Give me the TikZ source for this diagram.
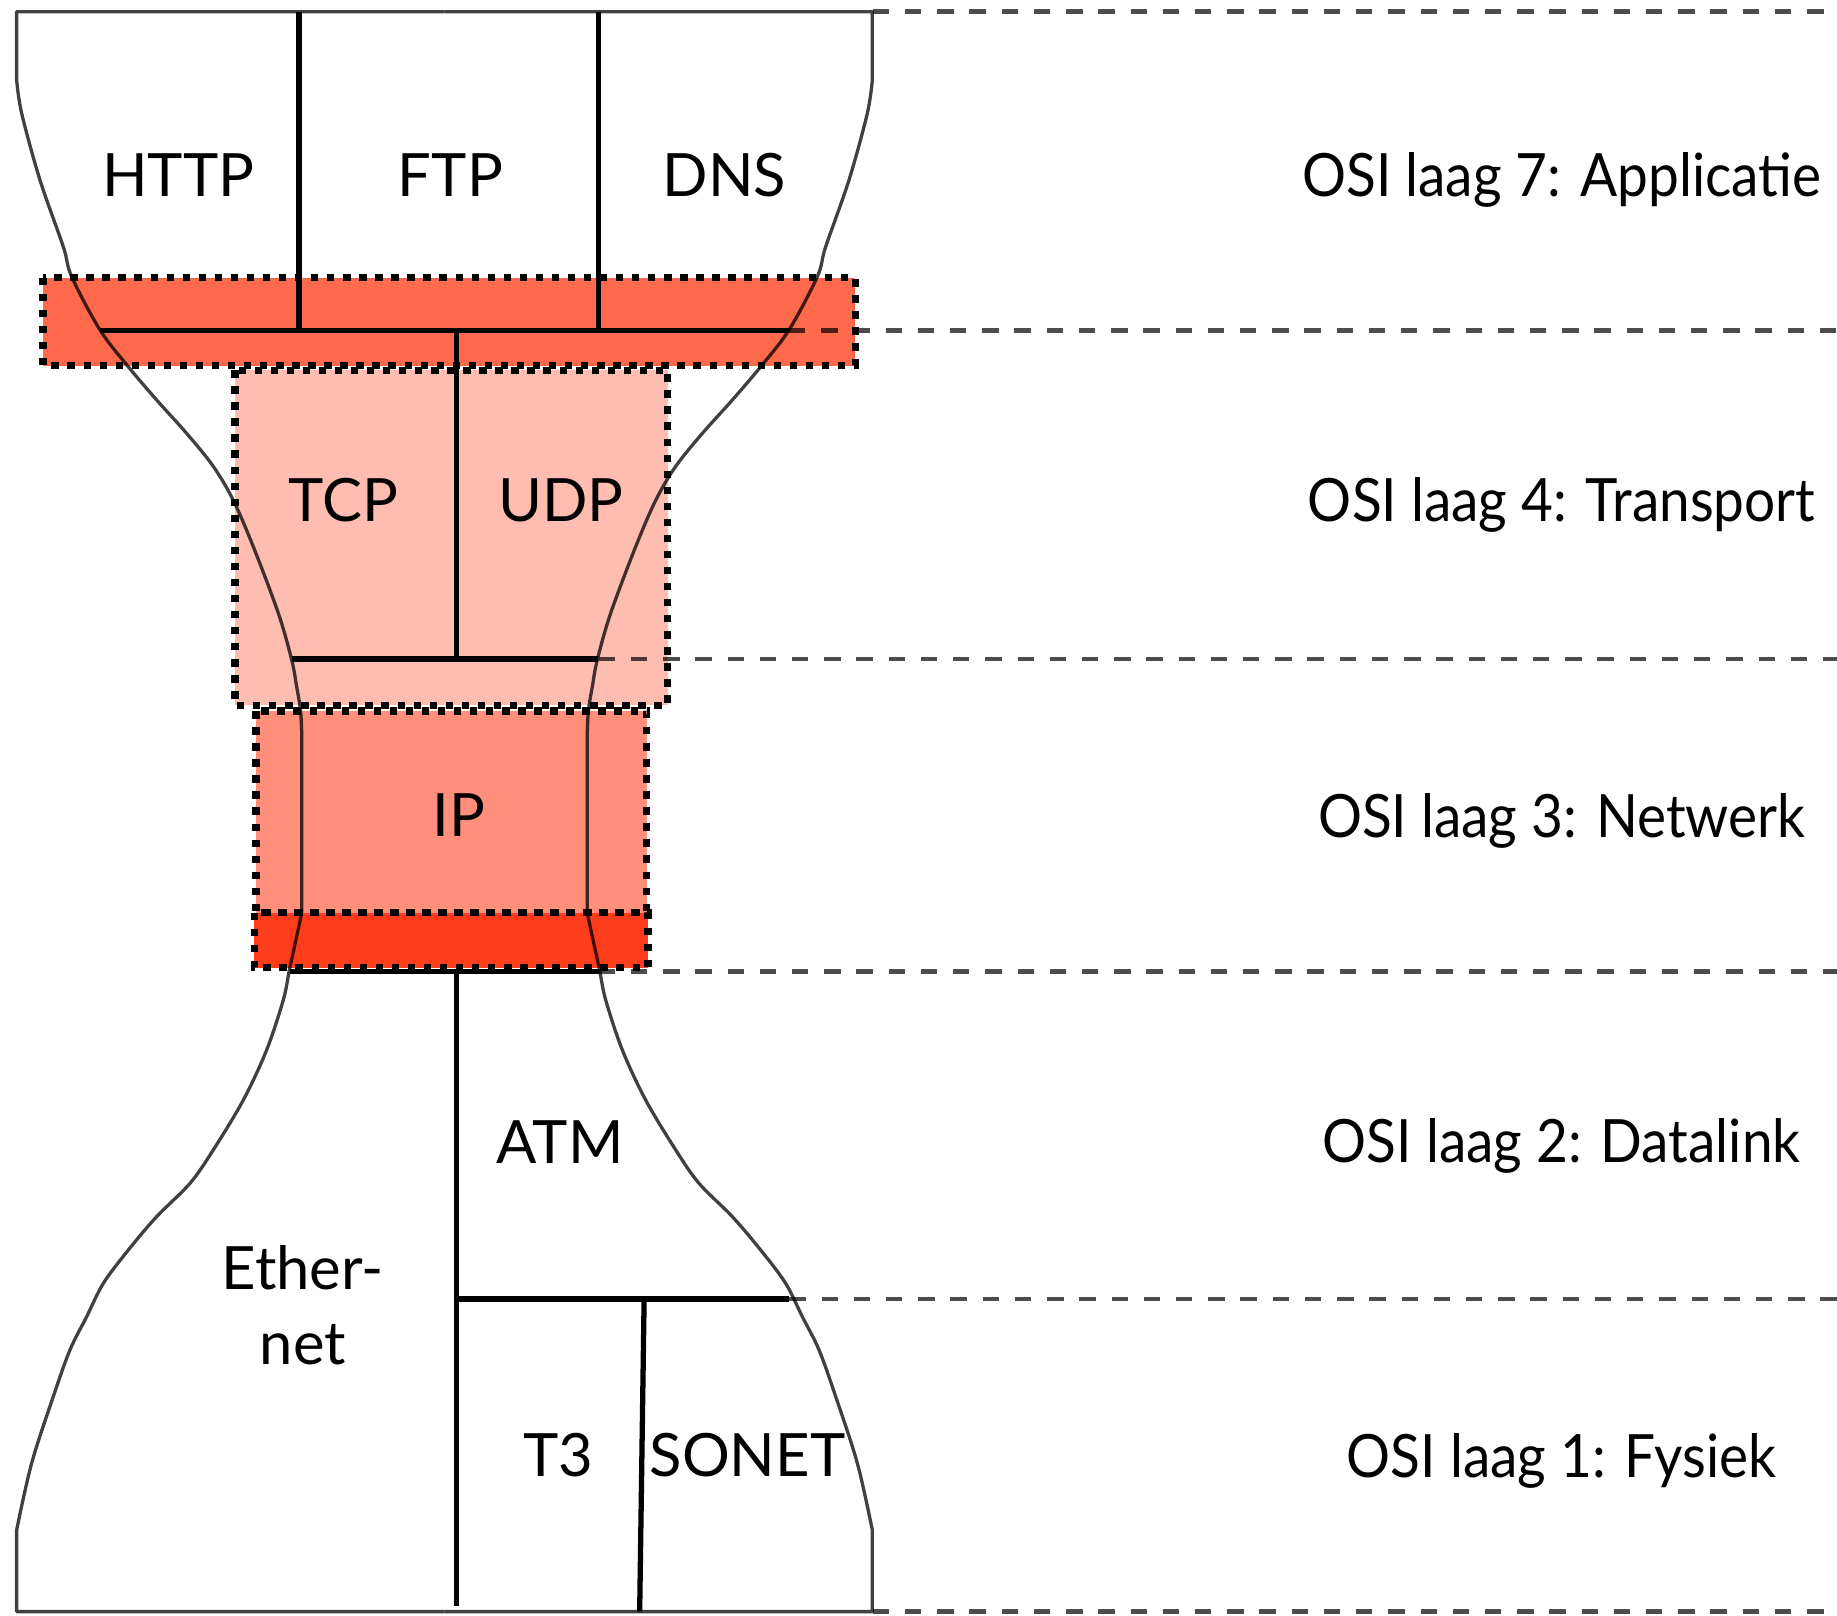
\documentclass[tikz,border=0pt]{standalone}
\usepackage{graphicx}
\usepackage{fontspec}
\setmainfont{Lato}

\definecolor{appband}{RGB}{255,106,77}
\definecolor{transbox}{RGB}{255,189,177}
\definecolor{netbox}{RGB}{255,143,122}
\definecolor{linkband}{RGB}{255,60,28}

% left half of the hourglass outline; the right half is its mirror image
\newcommand\hourglasshalf{%
  \draw[outline] (379.4,10) -- (14.2,10) -- (14.2,68)
    -- plot[smooth, tension=0.55] coordinates {(14.2,68) (18.5,96.7) (34.1,153.6)
       (54,210.5) (61.2,236.2) (85.4,281.7) (109.5,313) (133.7,341.4) (159.3,369.9)
       (182,398) (199,426.8) (216.2,466.6) (237.6,523.5) (249,563.3) (253.2,586)
       (256.5,606) (257.5,625)}
    -- (257.5,779.5)
    -- plot[smooth, tension=0.55] coordinates {(257.5,779.5) (252,805) (247,828)
       (241.8,853.5) (227.6,896.2) (207.7,938.9) (182,981.6) (162.2,1010)
       (133.7,1038.5) (109.5,1067) (88.2,1095.4) (74,1123.8) (59.7,1152.3)
       (45.5,1192) (27,1249) (14.2,1306)}
    -- (14.2,1375.6) -- (379.4,1375.6);}

% OSI layer caption, set slightly condensed
\newcommand\ositext[1]{\scalebox{0.92}[1]{#1}}

\begin{document}
\begin{tikzpicture}[x=1pt,y=-1pt,
  outline/.style={draw=black, draw opacity=0.75, line width=2.8pt, line join=round},
  divider/.style={draw=black, line width=4.5pt},
  layerline/.style={draw=black, draw opacity=0.7, line width=4pt,
    dash pattern=on 14pt off 13.5pt},
  dotbox/.style={draw=black, line width=6.3pt, dash pattern=on 6.3pt off 7.4pt},
  proto/.style={anchor=base, inner sep=0pt, font=\fontsize{51}{60}\selectfont},
  osi/.style={proto}]

\useasboundingbox (0,0) rectangle (1568,1379);

% coloured protocol layers
\fill[appband] (36.7,237) rectangle (730,312);
\fill[transbox] (200.6,316) rectangle (570,602);
\fill[netbox] (218.5,607) rectangle (552,779);
\fill[linkband] (217,779) rectangle (553,826);

% hourglass outline
\hourglasshalf
\begin{scope}[shift={(758.8,0)}, xscale=-1]
  \hourglasshalf
\end{scope}

% layer boundaries
\draw[layerline] (745,10) -- (1568,10);
\draw[layerline] (673.4,282) -- (1568,282);
\draw[layerline] (511,562.5) -- (1568,562.5);
\draw[layerline] (511,829) -- (1568,829);
\draw[layerline] (673.8,1108.7) -- (1568,1108.7);
\draw[layerline] (745,1375.6) -- (1568,1375.6);

% protocol dividers
\draw[divider] (255.2,10) -- (255.2,282);
\draw[divider] (510.6,10) -- (510.6,282);
\draw[divider] (85.4,282) -- (673.4,282);
\draw[divider] (389.6,282) -- (389.6,562.5);
\draw[divider] (249,562.5) -- (510,562.5);
\draw[divider] (247.5,829) -- (511.3,829);
\draw[divider] (389.6,829) -- (389.6,1371);
\draw[divider] (387.5,1108.7) -- (673.8,1108.7);
\draw[divider] (549.8,1108.7) -- (546,1375.6);

% dotted outlines of the coloured layers
\draw[dotbox] (36.7,237) rectangle (730,312);
\draw[dotbox] (200.6,316) rectangle (570,602);
\draw[dotbox] (218.5,607) rectangle (552,779);
\draw[dotbox] (217,779) rectangle (553,826);

% protocol names
\node[proto] (http) at (152,168) {HTTP};
\node[proto] (ftp) at (384.5,168) {FTP};
\node[proto] (dns) at (618.5,168) {DNS};
\node[proto] (tcp) at (293,445.3) {TCP};
\node[proto] (udp) at (478.7,445.3) {UDP};
\node[proto] (ip) at (392,714) {IP};
\node[proto] (atm) at (478,993) {ATM};
\node[proto] (ether) at (258.5,1101) {Ether-};
\node[proto] (net) at (258.6,1165) {net};
\node[proto] (t3) at (476.6,1260) {T3};
\node[proto] (sonet) at (638,1260) {SONET};

% OSI layer names
\node[osi] (l7) at (1333,167.3) {\ositext{OSI laag 7: Applicatie}};
\node[osi] (l4) at (1333,445.3) {\ositext{OSI laag 4: Transport}};
\node[osi] (l3) at (1333,715) {\ositext{OSI laag 3: Netwerk}};
\node[osi] (l2) at (1333,992) {\ositext{OSI laag 2: Datalink}};
\node[osi] (l1) at (1333,1261) {\ositext{OSI laag 1: Fysiek}};
\end{tikzpicture}
\end{document}
